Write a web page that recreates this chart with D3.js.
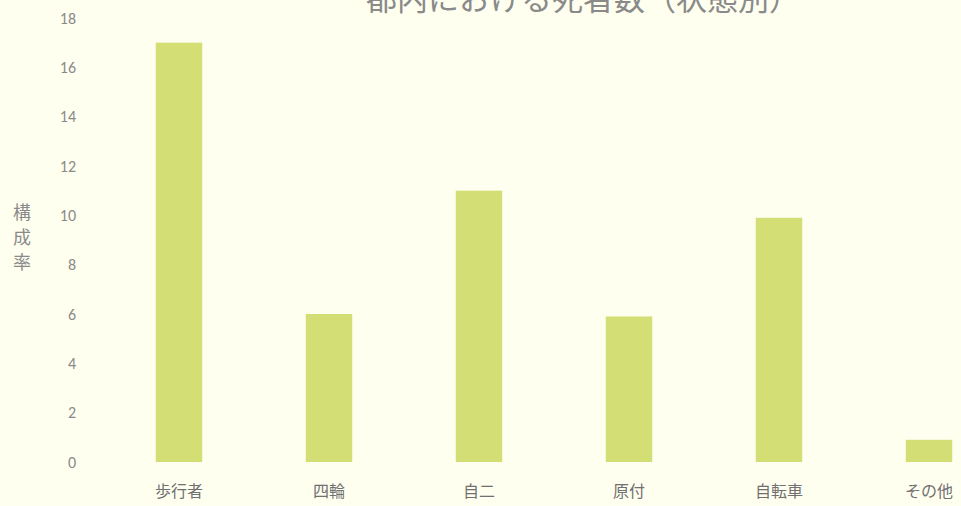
<!DOCTYPE html>
<html>
<head>
<meta charset="utf-8">
<script src="https://cdn.jsdelivr.net/npm/d3@7"></script>
<style>
    html, body { margin: 0; padding: 0; background: #fffff0; overflow: hidden; }
    svg { display: block; font-family: "Noto Sans CJK JP", "Noto Sans", sans-serif; }
</style>
</head>
<body>
<svg id="chart" width="961" height="506"></svg>
<script>
const categories = ["歩行者", "四輪", "自二", "原付", "自転車", "その他"];
const values = [17, 6, 11, 5.9, 9.9, 0.9];
const yTicks = [0, 2, 4, 6, 8, 10, 12, 14, 16, 18];
const titleText = "都内における死者数（状態別）";
const yLabel = "構成率";

const CHART = {
    width: 961,
    height: 506,
    margin: { top: 18, right: -43, bottom: 44, left: 104 },
};

function drawChart(chart) {
    chart.svg = d3.select("#chart");
    chart.graphWidth = chart.width - chart.margin.left - chart.margin.right;
    chart.graphHeight = chart.height - chart.margin.top - chart.margin.bottom;

    chart.x = d3.scaleBand()
        .domain(categories)
        .range([0, chart.graphWidth])
        .paddingInner(0.69)
        .paddingOuter(0.345);
    chart.y = d3.scaleLinear().domain([0, 18]).range([chart.graphHeight, 0]);

    chart.g = chart.svg.append("g")
        .attr("transform", `translate(${chart.margin.left},${chart.margin.top})`);

    // Bars
    chart.g.selectAll("rect.bar")
        .data(values)
        .join("rect")
        .attr("class", "bar")
        .attr("x", (d, i) => chart.x(categories[i]))
        .attr("y", d => chart.y(d))
        .attr("width", chart.x.bandwidth())
        .attr("height", d => chart.y(0) - chart.y(d))
        .attr("fill", "#d3df74");

    // Y axis (labels only)
    const yAxis = chart.g.append("g")
        .attr("transform", "translate(-28,0)")
        .call(d3.axisLeft(chart.y).tickValues(yTicks).tickSize(0).tickPadding(0));
    yAxis.select(".domain").remove();
    yAxis.selectAll("text")
        .attr("fill", "#8a8a8a")
        .style("font-family", "Calibri, Carlito, 'Liberation Sans', sans-serif")
        .style("font-size", "16px");

    // X axis (labels only)
    const xAxis = chart.g.append("g")
        .attr("transform", `translate(0,${chart.graphHeight})`)
        .call(d3.axisBottom(chart.x).tickSize(0).tickPadding(24));
    xAxis.select(".domain").remove();
    xAxis.selectAll("text")
        .attr("fill", "#707070")
        .style("font-family", "'Noto Sans CJK JP', sans-serif")
        .style("font-size", "16px");

    // Y label, vertical stack
    chart.svg.append("g")
        .selectAll("text")
        .data(yLabel.split(""))
        .join("text")
        .attr("x", 22)
        .attr("y", (d, i) => 219 + i * 25)
        .attr("text-anchor", "middle")
        .attr("fill", "#8a8a8a")
        .style("font-size", "18px")
        .text(d => d);

    // Title (cropped at top, as in the source)
    chart.svg.append("text")
        .attr("x", 583)
        .attr("y", 10)
        .attr("text-anchor", "middle")
        .attr("fill", "#8a8a8a")
        .style("font-size", "31px")
        .text(titleText);
}

window.addEventListener("load", function () {
    drawChart(CHART);
});
</script>
</body>
</html>
